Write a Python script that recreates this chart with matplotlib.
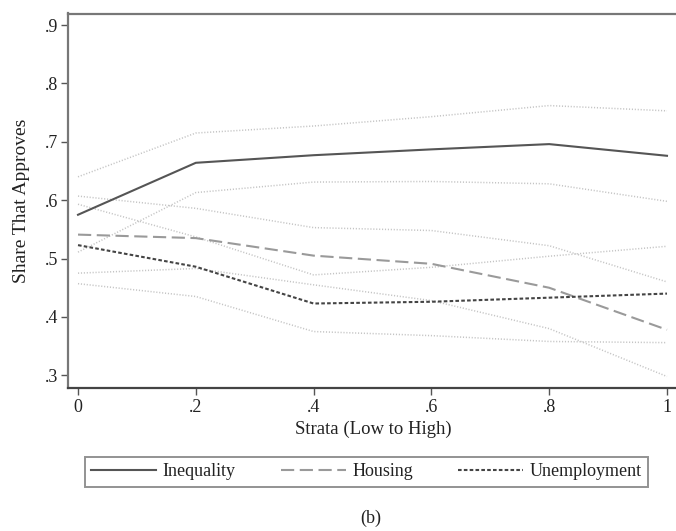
import matplotlib
matplotlib.use("Agg")
import matplotlib.pyplot as plt

plt.rcParams['font.family'] = ['Liberation Serif', 'DejaVu Serif']
plt.rcParams['lines.scale_dashes'] = False

strata = [0, 0.2, 0.4, 0.6, 0.8, 1.0]
x_ticklabels = ['0', '.2', '.4', '.6', '.8', '1']
y_ticks = [0.3, 0.4, 0.5, 0.6, 0.7, 0.8, 0.9]
y_ticklabels = ['.3', '.4', '.5', '.6', '.7', '.8', '.9']

inequality = [0.575, 0.664, 0.677, 0.687, 0.696, 0.676]
inequality_hi = [0.640, 0.715, 0.727, 0.743, 0.762, 0.753]
inequality_lo = [0.511, 0.613, 0.631, 0.632, 0.628, 0.598]

housing = [0.541, 0.535, 0.505, 0.491, 0.450, 0.378]
housing_hi = [0.607, 0.586, 0.553, 0.548, 0.522, 0.460]
housing_lo = [0.475, 0.483, 0.455, 0.428, 0.380, 0.298]

unemployment = [0.523, 0.486, 0.423, 0.426, 0.433, 0.440]
unemployment_hi = [0.593, 0.537, 0.472, 0.485, 0.504, 0.521]
unemployment_lo = [0.457, 0.435, 0.375, 0.368, 0.358, 0.356]

W, H = 676, 531
fig = plt.figure(figsize=(W / 100, H / 100), dpi=100)
ax = fig.add_axes([68 / W, 1 - 388 / H, (678 - 68) / W, (388 - 13.5) / H])

ci_kw = dict(color='#c4c4c4', lw=1.1, dashes=(0.8, 1.3))
for ser in (inequality_hi, inequality_lo, housing_hi, housing_lo,
            unemployment_hi, unemployment_lo):
    ax.plot(strata, ser, **ci_kw)

ax.plot(strata, inequality, color='#555555', lw=1.5, label='Inequality')
ax.plot(strata, housing, color='#9a9a9a', lw=1.5, dashes=(9.5, 4.0), label='Housing')
ax.plot(strata, unemployment, color='#444444', lw=1.5, dashes=(2.6, 1.6), label='Unemployment')

ax.set_xlim(-0.017, 1.0187)
ax.set_ylim(0.2783, 0.9197)
ax.set_xticks(strata)
ax.set_xticklabels(x_ticklabels)
ax.set_yticks(y_ticks)
ax.set_yticklabels(y_ticklabels)
ax.tick_params(axis='both', labelsize=13, length=5, width=1.0, color='#555555',
               labelcolor='#222222')
ax.tick_params(axis='y', pad=2)
ax.tick_params(axis='x', pad=3)

for side in ('left', 'top', 'right'):
    ax.spines[side].set_color('#777777')
    ax.spines[side].set_linewidth(1.6)
ax.spines['bottom'].set_color('#444444')
ax.spines['bottom'].set_linewidth(1.6)

ax.set_xlabel('Strata (Low to High)', fontsize=13.5, color='#222222', labelpad=3)
ax.set_ylabel('Share That Approves', fontsize=14, color='#222222', labelpad=11)

handles, labels = ax.get_legend_handles_labels()
leg = fig.legend(handles, labels, loc='center', ncol=3,
                 bbox_to_anchor=(366.5 / W, 1 - 472 / H),
                 fontsize=13, frameon=True, fancybox=False,
                 edgecolor='#777777', handlelength=3.6, handletextpad=0.35,
                 columnspacing=2.5, borderpad=0.35)
leg.get_frame().set_linewidth(1.4)
for t in leg.get_texts():
    t.set_color('#222222')

fig.text(371 / W, 1 - 518 / H, '(b)', ha='center', va='center', fontsize=13,
         color='#222222')

fig.savefig('out.png', dpi=100)
